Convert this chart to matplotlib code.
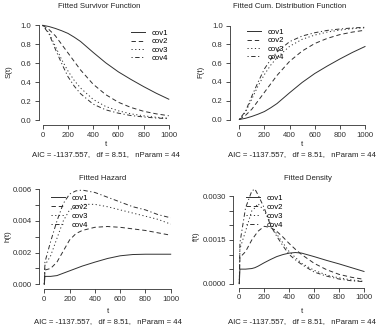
import matplotlib
matplotlib.use("Agg")
import matplotlib.pyplot as plt

plt.rcParams['font.family'] = ['Liberation Sans', 'DejaVu Sans']

labels = ["cov1", "cov2", "cov3", "cov4"]

# Survivor function
t_S = [0, 50, 100, 150, 200, 250, 300, 400, 500, 600, 700, 800, 900, 1000]
S_cov1 = [1.0, 0.987, 0.967, 0.943, 0.915, 0.875, 0.83, 0.715, 0.605, 0.51, 0.43, 0.355, 0.285, 0.222]
S_cov2 = [1.0, 0.955, 0.89, 0.80, 0.71, 0.62, 0.53, 0.38, 0.27, 0.19, 0.135, 0.095, 0.068, 0.048]
S_cov3 = [1.0, 0.92, 0.78, 0.64, 0.52, 0.42, 0.34, 0.22, 0.145, 0.10, 0.068, 0.047, 0.032, 0.022]
S_cov4 = [1.0, 0.91, 0.75, 0.60, 0.46, 0.36, 0.28, 0.17, 0.11, 0.075, 0.05, 0.035, 0.024, 0.017]

# Cumulative distribution function
t_F = [0, 50, 100, 150, 200, 250, 300, 400, 500, 600, 700, 800, 900, 1000]
F_cov1 = [0.0, 0.013, 0.033, 0.057, 0.085, 0.125, 0.17, 0.285, 0.395, 0.49, 0.57, 0.645, 0.715, 0.778]
F_cov2 = [0.0, 0.045, 0.11, 0.20, 0.29, 0.38, 0.47, 0.62, 0.73, 0.81, 0.865, 0.905, 0.932, 0.952]
F_cov3 = [0.0, 0.08, 0.22, 0.36, 0.48, 0.58, 0.66, 0.78, 0.855, 0.90, 0.932, 0.953, 0.968, 0.978]
F_cov4 = [0.0, 0.09, 0.25, 0.40, 0.54, 0.64, 0.72, 0.83, 0.89, 0.925, 0.95, 0.965, 0.976, 0.983]

# Hazard
t_h = [0, 5, 50, 100, 150, 200, 250, 300, 400, 500, 600, 700, 800, 900, 1000]
h_cov1 = [0.0, 0.0005, 0.0005, 0.00055, 0.0007, 0.00085, 0.001, 0.00115, 0.0014, 0.00163, 0.0018, 0.00188, 0.0019, 0.0019, 0.0019]
h_cov2 = [0.0, 0.0009, 0.001, 0.0014, 0.0021, 0.0028, 0.0032, 0.0034, 0.0036, 0.00365, 0.0036, 0.0035, 0.0034, 0.00325, 0.0031]
h_cov3 = [0.0, 0.0012, 0.0018, 0.0029, 0.0040, 0.0047, 0.0049, 0.00505, 0.00505, 0.0049, 0.0047, 0.0045, 0.0043, 0.0041, 0.0038]
h_cov4 = [0.0, 0.0014, 0.0027, 0.0040, 0.0051, 0.0057, 0.0059, 0.00595, 0.0058, 0.0055, 0.0052, 0.0049, 0.0047, 0.0044, 0.0042]

# Density
t_f = [0, 5, 50, 100, 125, 150, 200, 250, 300, 350, 400, 450, 500, 600, 700, 800, 900, 1000]
f_cov1 = [0.0, 0.0005, 0.0005, 0.00052, 0.00055, 0.0006, 0.00072, 0.00083, 0.00093, 0.001, 0.00105, 0.00107, 0.00105, 0.00093, 0.0008, 0.00068, 0.00055, 0.00042]
f_cov2 = [0.0, 0.0009, 0.0011, 0.0015, 0.00165, 0.0018, 0.00197, 0.00193, 0.0018, 0.0016, 0.00138, 0.00118, 0.001, 0.0007, 0.00048, 0.00032, 0.00022, 0.00015]
f_cov3 = [0.0, 0.0012, 0.0018, 0.0025, 0.0026, 0.00275, 0.0025, 0.0021, 0.0017, 0.0014, 0.0011, 0.0009, 0.0007, 0.00046, 0.0003, 0.0002, 0.00013, 0.00008]
f_cov4 = [0.0, 0.0014, 0.0026, 0.00318, 0.00325, 0.00305, 0.0026, 0.002, 0.00163, 0.0013, 0.001, 0.00082, 0.00066, 0.0004, 0.00026, 0.00016, 0.0001, 0.00007]

x_ticks = [0, 200, 400, 600, 800, 1000]
S_ticks = [0.0, 0.2, 0.4, 0.6, 0.8, 1.0]
h_ticks = [0.000, 0.001, 0.002, 0.003, 0.004, 0.005, 0.006]
h_ticklabels = ["0.000", "", "0.002", "", "0.004", "", "0.006"]
f_ticks = [0.0, 0.0005, 0.0010, 0.0015, 0.0020, 0.0025, 0.0030]
f_ticklabels = ["0.0000", "", "", "0.0015", "", "", "0.0030"]

titles = ["Fitted Survivor Function", "Fitted Cum. Distribution Function", "Fitted Hazard", "Fitted Density"]
ylabels = ["S(t)", "F(t)", "h(t)", "f(t)"]
footer = "AIC = -1137.557,   df = 8.51,   nParam = 44"

W, H = 381, 327
fig = plt.figure(figsize=(W / 100, H / 100), dpi=100)
FS = 5.6
COL = "#303030"
styles = ["-", (0, (4.5, 3.0)), (0, (1.2, 2.6)), (0, (1.2, 2.6, 4.5, 2.6))]


def make_axes(left, right, top, bottom, t0px, t1px, v0, v0px, v1, v1px):
    ax = fig.add_axes([left / W, 1 - bottom / H, (right - left) / W, (bottom - top) / H])
    sx = (t1px - t0px) / 1000.0
    ax.set_xlim((left - t0px) / sx, (right - t0px) / sx)
    sy = (v0px - v1px) / (v1 - v0)
    ax.set_ylim(v0 - (bottom - v0px) / sy, v0 + (v0px - top) / sy)
    for s in ["top", "right"]:
        ax.spines[s].set_visible(False)
    for s in ["left", "bottom"]:
        ax.spines[s].set_linewidth(0.6)
        ax.spines[s].set_color(COL)
    ax.tick_params(direction="out", length=3.0, width=0.6, colors=COL, labelsize=FS, pad=2.0)
    ax.set_xticks(x_ticks)
    ax.spines["bottom"].set_bounds(0, 1000)
    return ax


def ftext(x, y, s, **kw):
    fig.text(x / W, 1 - y / H, s, fontsize=FS, color="#222222", ha="center", va="center", **kw)


panels = [
    dict(box=(38.5, 173.8, 21, 124.7), xmap=(42.7, 168.8), ymap=(0.0, 120.3, 1.0, 25.3),
         t=t_S, ys=[S_cov1, S_cov2, S_cov3, S_cov4], ticks=S_ticks, tl=None,
         title=(98.7, 6), ylab=(9.5, 72), foot=(106.5, 155), tlab=(105.7, 145),
         leg=(131, 29.4), lsp=0.12),
    dict(box=(229.8, 370.0, 21, 124.7), xmap=(239.3, 365.0), ymap=(0.0, 119.5, 1.0, 25.7),
         t=t_F, ys=[F_cov1, F_cov2, F_cov3, F_cov4], ticks=S_ticks, tl=None,
         title=(290, 6), ylab=(201, 72), foot=(302.5, 155), tlab=(302.2, 145),
         leg=(246.7, 28.4), lsp=0.12),
    dict(box=(39.3, 175.7, 185, 288.7), xmap=(44.3, 170.7), ymap=(0.0, 284.3, 0.006, 189.3),
         t=t_h, ys=[h_cov1, h_cov2, h_cov3, h_cov4], ticks=h_ticks, tl=h_ticklabels,
         title=(103, 178), ylab=(8, 236.5), foot=(108, 321.3), tlab=(107.5, 311.3),
         leg=(50.7, 194.2), lsp=0.2),
    dict(box=(232.7, 369.0, 185, 287.5), xmap=(239.3, 364.0), ymap=(0.0, 283.7, 0.003, 196.3),
         t=t_f, ys=[f_cov1, f_cov2, f_cov3, f_cov4], ticks=f_ticks, tl=f_ticklabels,
         title=(308, 178), ylab=(196, 236.5), foot=(302, 321.3), tlab=(301.7, 311.3),
         leg=(246, 194.2), lsp=0.2),
]

for i, p in enumerate(panels):
    l, r, tp, b = p["box"]
    v0, v0px, v1, v1px = p["ymap"]
    ax = make_axes(l, r, tp, b, p["xmap"][0], p["xmap"][1], v0, v0px, v1, v1px)
    ax.set_yticks(p["ticks"])
    if p["tl"] is not None:
        ax.set_yticklabels(p["tl"])
    ax.spines["left"].set_bounds(p["ticks"][0], p["ticks"][-1])
    handles = []
    for ys, ls, lab in zip(p["ys"], styles, labels):
        ln, = ax.plot(p["t"], ys, color=COL, lw=0.7, linestyle=ls, label=lab)
        handles.append(ln)
    lx, ly = p["leg"]
    ax.legend(handles=handles, loc="upper left", bbox_to_anchor=(lx / W, 1 - ly / H),
              bbox_transform=fig.transFigure, frameon=False, fontsize=FS,
              borderpad=0.0, borderaxespad=0.0, handlelength=1.8, handletextpad=0.85,
              labelspacing=p["lsp"])
    ftext(*p["title"], titles[i])
    ftext(*p["ylab"], ylabels[i], rotation=90)
    ftext(*p["tlab"], "t")
    ftext(*p["foot"], footer)

fig.savefig("out.png", dpi=100)
